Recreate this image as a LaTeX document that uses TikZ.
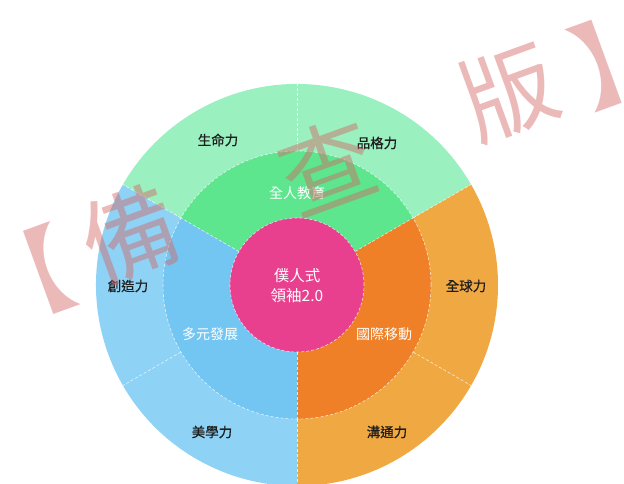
\documentclass[tikz,border=0pt]{standalone}
\usepackage{fontspec}
\newfontfamily\cjk{Noto Sans CJK TC}
\newfontfamily\cjkb[FakeBold=0.6]{Noto Sans CJK TC}
\definecolor{ogreen}{RGB}{155,240,192}
\definecolor{mgreen}{RGB}{94,230,142}
\definecolor{oblue}{RGB}{142,210,245}
\definecolor{mblue}{RGB}{116,198,242}
\definecolor{oorange}{RGB}{240,168,66}
\definecolor{morange}{RGB}{239,128,39}
\definecolor{cpink}{RGB}{232,64,143}
\definecolor{wmark}{RGB}{212,100,100}
\definecolor{labtext}{RGB}{30,30,30}
\tikzset{
  divider/.style={draw=white, dash pattern=on 3pt off 2pt, line width=0.6pt, draw opacity=0.75},
  outerlab/.style={font=\cjkb\fontsize{13.5}{15}\selectfont, text=labtext, inner sep=0pt},
  midlab/.style={font=\cjk\fontsize{14}{16}\selectfont, text=white, inner sep=0pt},
  centerlab/.style={font=\cjk\fontsize{15.5}{20}\selectfont, text=white, align=center, inner sep=0pt},
  wm/.style={font=\cjk\fontsize{95}{95}\selectfont, text=wmark, text opacity=0.45, rotate=20, inner sep=0pt}
}
\begin{document}
\begin{tikzpicture}[x=1pt,y=1pt]
\useasboundingbox (0,0) rectangle (624,484);
\clip (0,0) rectangle (624,484);
\coordinate (c) at (297,199);
% outer ring
\fill[ogreen] (c) -- ++(30:201) arc[start angle=30,end angle=150,radius=201] -- cycle;
\fill[oblue] (c) -- ++(150:201) arc[start angle=150,end angle=270,radius=201] -- cycle;
\fill[oorange] (c) -- ++(-90:201) arc[start angle=-90,end angle=30,radius=201] -- cycle;
% middle ring
\fill[mgreen] (c) -- ++(30:134) arc[start angle=30,end angle=150,radius=134] -- cycle;
\fill[mblue] (c) -- ++(150:134) arc[start angle=150,end angle=270,radius=134] -- cycle;
\fill[morange] (c) -- ++(-90:134) arc[start angle=-90,end angle=30,radius=134] -- cycle;
% dividers
\foreach \a in {30,90,150,210,270,330} {
  \draw[divider] (c) ++(\a:134) -- ++(\a:67);
}
\foreach \a in {30,150,270} {
  \draw[divider] (c) ++(\a:67) -- ++(\a:67);
}
\draw[divider] (c) circle[radius=134];
% centre
\fill[cpink] (c) circle[radius=67];
\draw[divider] (c) circle[radius=67];
% labels
\node[outerlab] (l1) at (218,344) {生命力};
\node[outerlab] (l2) at (377,341) {品格力};
\node[outerlab] (l3) at (128,198) {創造力};
\node[outerlab] (l4) at (466,198) {全球力};
\node[outerlab] (l5) at (212,52) {美學力};
\node[outerlab] (l6) at (387,52) {溝通力};
\node[midlab] (m1) at (297,291) {全人教育};
\node[midlab] (m2) at (210,150) {多元發展};
\node[midlab] (m3) at (384,150) {國際移動};
\node[centerlab] (ctr) at (297,198) {僕人式\\領袖2.0};
% watermark
\node[wm] (w1) at (24,206) {【};
\node[wm] (w2) at (130,249) {備};
\node[wm] (w3) at (327,318) {查};
\node[wm] (w4) at (509,392) {版};
\node[wm] (w5) at (622,428) {】};
\end{tikzpicture}
\end{document}
